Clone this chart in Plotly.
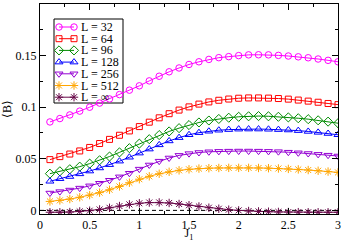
import plotly.graph_objects as go

# ---------------- data ----------------
J1 = [round(0.1 * i, 1) for i in range(1, 31)]

B_L32 = [0.0857, 0.0890, 0.0925, 0.0962, 0.1000, 0.1040, 0.1080, 0.1122, 0.1165, 0.1207,
         0.1255, 0.1300, 0.1343, 0.1380, 0.1414, 0.1440, 0.1463, 0.1480, 0.1490, 0.1500,
         0.1507, 0.1508, 0.1507, 0.1502, 0.1496, 0.1488, 0.1479, 0.1467, 0.1454, 0.1440]
B_L64 = [0.0492, 0.0521, 0.0546, 0.0576, 0.0610, 0.0648, 0.0688, 0.0728, 0.0770, 0.0812,
         0.0855, 0.0897, 0.0937, 0.0972, 0.1003, 0.1030, 0.1051, 0.1067, 0.1079, 0.1087,
         0.1090, 0.1090, 0.1088, 0.1084, 0.1078, 0.1069, 0.1059, 0.1048, 0.1036, 0.1025]
B_L96 = [0.0356, 0.0379, 0.0399, 0.0424, 0.0453, 0.0486, 0.0522, 0.0562, 0.0603, 0.0647,
         0.0690, 0.0730, 0.0765, 0.0797, 0.0827, 0.0852, 0.0871, 0.0886, 0.0898, 0.0907,
         0.0912, 0.0914, 0.0912, 0.0907, 0.0901, 0.0893, 0.0884, 0.0873, 0.0860, 0.0845]
B_L128 = [0.0282, 0.0307, 0.0328, 0.0354, 0.0381, 0.0411, 0.0443, 0.0477, 0.0515, 0.0555,
          0.0594, 0.0635, 0.0673, 0.0705, 0.0733, 0.0753, 0.0767, 0.0777, 0.0783, 0.0787,
          0.0788, 0.0788, 0.0786, 0.0783, 0.0779, 0.0773, 0.0765, 0.0756, 0.0745, 0.0733]
B_L256 = [0.0168, 0.0182, 0.0197, 0.0216, 0.0238, 0.0263, 0.0292, 0.0325, 0.0360, 0.0400,
          0.0440, 0.0477, 0.0508, 0.0533, 0.0550, 0.0561, 0.0568, 0.0572, 0.0574, 0.0575,
          0.0575, 0.0574, 0.0572, 0.0569, 0.0564, 0.0558, 0.0551, 0.0543, 0.0535, 0.0527]
B_L512 = [0.0087, 0.0097, 0.0110, 0.0127, 0.0148, 0.0172, 0.0200, 0.0232, 0.0268, 0.0302,
          0.0330, 0.0355, 0.0374, 0.0388, 0.0398, 0.0405, 0.0409, 0.0411, 0.0412, 0.0412,
          0.0412, 0.0411, 0.0409, 0.0406, 0.0402, 0.0397, 0.0391, 0.0384, 0.0376, 0.0368]
B_Linf = [-0.0018, -0.0018, -0.0016, -0.0010, -0.0003, 0.0009, 0.0025, 0.0042, 0.0058, 0.0069,
          0.0076, 0.0077, 0.0072, 0.0062, 0.0050, 0.0038, 0.0026, 0.0016, 0.0007, 0.0000,
          -0.0006, -0.0010, -0.0013, -0.0015, -0.0016, -0.0017, -0.0018, -0.0018, -0.0018, -0.0018]

series_names = ["L = 32", "L = 64", "L = 96", "L = 128", "L = 256", "L = 512", "L = ∞"]
series_values = [B_L32, B_L64, B_L96, B_L128, B_L256, B_L512, B_Linf]

x_tickvals = [0, 0.5, 1, 1.5, 2, 2.5, 3]
x_ticktext = ["0", "0.5", "1", "1.5", "2", "2.5", "3"]
y_tickvals = [0, 0.05, 0.1, 0.15, 0.2]
y_ticktext = ["0", "0.05", "0.1", "0.15", "0.2"]

# ---------------- styles ----------------
colors = ["#ff00ff", "#ff0000", "#008b00", "#0000ff", "#9400d3", "#ffa500", "#670748"]
symbols = ["circle-open", "square-open", "diamond-open", "triangle-up-open",
           "triangle-down-open", "asterisk-open", "asterisk-open"]
msizes = [6.5, 6, 7, 7, 7, 7, 7]

W, H = 342, 242
ML, MR, MT, MB = 40, 4, 4, 28
FONT = "Liberation Serif, Times New Roman, serif"

fig = go.Figure()

# zero reference line (dashed)
fig.add_shape(type="line", xref="paper", yref="y", x0=0, x1=1, y0=0, y1=0,
              line=dict(color="black", width=1, dash="4px,3px"), layer="below")

for name, vals, c, s, ms in zip(series_names, series_values, colors, symbols, msizes):
    fig.add_trace(go.Scatter(
        x=J1, y=vals, mode="lines+markers", name=name, showlegend=False,
        line=dict(color=c, width=1),
        marker=dict(symbol=s, size=ms, color=c, line=dict(color=c, width=1)),
        xaxis="x", yaxis="y"))

# ---------------- custom legend (pixel-coordinate overlay axes) ----------------
px_l, px_r = ML, W - MR
px_t, px_b = MT, H - MB
box_x0, box_x1, box_y0, box_y1 = 54, 123, 19, 103
row0, row_step = 27, 11.7
fig.add_shape(type="rect", xref="x2", yref="y2", x0=box_x0, x1=box_x1, y0=box_y0, y1=box_y1,
              line=dict(color="black", width=1), fillcolor="white", layer="below")
for i, (name, c, s, ms) in enumerate(zip(series_names, colors, symbols, msizes)):
    ry = row0 + i * row_step
    fig.add_trace(go.Scatter(
        x=[59, 74], y=[ry, ry], mode="lines+markers", showlegend=False,
        line=dict(color=c, width=1),
        marker=dict(symbol=s, size=ms, color=c, line=dict(color=c, width=1)),
        xaxis="x2", yaxis="y2", hoverinfo="skip"))
    fig.add_annotation(x=79, y=ry, xref="x2", yref="y2", text=name, showarrow=False,
                       xanchor="left", yanchor="middle",
                       font=dict(family=FONT, size=12, color="black"))

axis_common = dict(showline=True, linecolor="black", linewidth=1, mirror="allticks",
                   ticks="inside", ticklen=6, tickcolor="black", tickwidth=1,
                   showgrid=False, zeroline=False, automargin=False,
                   tickfont=dict(family=FONT, size=12, color="black"))

fig.update_layout(
    template="none",
    width=W, height=H,
    margin=dict(l=ML, r=MR, t=MT, b=MB, pad=0),
    paper_bgcolor="white", plot_bgcolor="white",
    font=dict(family=FONT, size=12, color="black"),
    showlegend=False,
    xaxis=dict(range=[0, 3], tickvals=x_tickvals, ticktext=x_ticktext,
               minor=dict(dtick=0.25, tick0=0, ticks="inside", ticklen=3, tickcolor="black"),
               title=dict(text="J<sub>1</sub>", standoff=4, font=dict(family=FONT, size=12)),
               **axis_common),
    yaxis=dict(range=[-0.0035, 0.2], tickvals=y_tickvals, ticktext=y_ticktext,
               minor=dict(dtick=0.025, tick0=0, ticks="inside", ticklen=3, tickcolor="black"),
               title=dict(text="⟨B⟩", standoff=4, font=dict(family=FONT, size=12)),
               **axis_common),
    xaxis2=dict(overlaying="x", range=[px_l, px_r], visible=False, fixedrange=True),
    yaxis2=dict(overlaying="y", range=[px_b, px_t], visible=False, fixedrange=True),
)

fig.write_html("out.html", config={"displayModeBar": False},
               post_script="document.body.style.margin='0';document.body.style.padding='0';")
